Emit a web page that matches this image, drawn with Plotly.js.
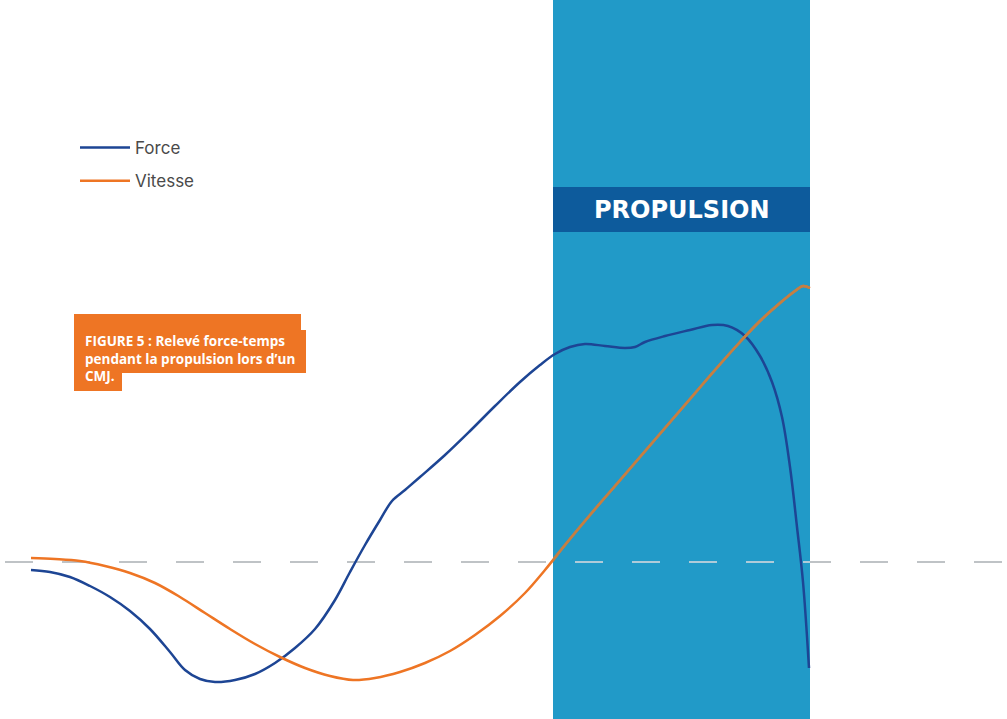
<!DOCTYPE html>
<html>
<head>
<meta charset="utf-8">
<script src="https://cdn.plot.ly/plotly-3.0.1.min.js"></script>
<style>
  html, body { margin: 0; padding: 0; background: #fff; }
</style>
</head>
<body>
<div id="chart"></div>
<script>
// temps (unités du graphique) et valeurs
var forceTime = [31, 50, 70, 90, 110, 130, 150, 170, 185, 200, 215, 235, 255, 275, 295, 315, 335, 350, 365, 380, 392, 405, 420, 445, 470, 495, 520, 540, 555, 570, 585, 605, 625, 635, 645, 665, 690, 712, 728, 745, 760, 772, 782, 790, 797, 803, 809];
var forceValue = [-8, -10, -15, -24, -35, -49, -67, -90, -108, -117, -120, -118, -112, -101, -86, -67, -38, -10, 17, 42, 61, 72, 85, 107, 131, 156, 180, 197, 208, 215, 218, 216, 214, 215, 220, 226, 232, 237, 236, 226, 206, 180, 145, 95, 35, -20, -106];

var vitesseTime = [31, 55, 80, 105, 130, 155, 180, 205, 230, 255, 280, 305, 330, 353, 375, 400, 425, 450, 475, 500, 525, 545, 565, 590, 615, 640, 665, 690, 715, 740, 760, 780, 795, 803, 810];
var vitesseValue = [4, 3, 1, -4, -11, -21, -35, -51, -67, -82, -95, -106, -114, -118, -116, -110, -101, -89, -73, -54, -31, -8, 17, 47, 76, 105, 134, 163, 192, 220, 241, 259, 271, 276, 274];

// phase de propulsion
var propulsionStart = 553;
var propulsionEnd = 810;

var blueColor = '#1d4594';
var orangeColor = '#ee7524';
var bandColor = '#219ac8';

var data = [{
  x: forceTime,
  y: forceValue,
  name: 'Force',
  legendgroup: 'force',
  type: 'scatter',
  mode: 'lines',
  line: { color: blueColor, width: 2.5, shape: 'spline', smoothing: 1 }
}, {
  x: vitesseTime,
  y: vitesseValue,
  name: 'Vitesse',
  legendgroup: 'vitesse',
  type: 'scatter',
  mode: 'lines',
  line: { color: orangeColor, width: 2.5, shape: 'spline', smoothing: 1 }
}, {
  // same curve again on a subplot that only covers the band, so it is clipped there
  x: vitesseTime,
  y: vitesseValue,
  xaxis: 'x2',
  yaxis: 'y2',
  showlegend: false,
  hoverinfo: 'skip',
  type: 'scatter',
  mode: 'lines',
  line: { color: '#c47f43', width: 2.5, shape: 'spline', smoothing: 1 }
}];

var layout = {
  width: 1007,
  height: 719,
  margin: { t: 0, l: 0, r: 0, b: 0 },
  paper_bgcolor: '#ffffff',
  plot_bgcolor: 'rgba(0,0,0,0)',
  xaxis: { range: [0, 1007], domain: [0, 1], visible: false, fixedrange: true },
  yaxis: { range: [-157, 562], domain: [0, 1], visible: false, fixedrange: true },
  xaxis2: { range: [propulsionStart, propulsionEnd], domain: [propulsionStart / 1007, propulsionEnd / 1007],
            anchor: 'y2', visible: false, fixedrange: true },
  yaxis2: { range: [-157, 562], domain: [0, 1], anchor: 'x2', visible: false, fixedrange: true },
  showlegend: true,
  legend: {
    x: 75 / 1007,
    y: 1 - 130 / 719,
    xanchor: 'left',
    yanchor: 'top',
    traceorder: 'grouped',
    tracegroupgap: 8,
    itemwidth: 50,
    bgcolor: 'rgba(0,0,0,0)',
    font: { family: 'Inter', size: 17, color: '#4a4a4a' }
  },
  shapes: [
    // bande propulsion
    { type: 'rect', xref: 'x', yref: 'paper', x0: propulsionStart, x1: propulsionEnd, y0: 0, y1: 1,
      fillcolor: bandColor, line: { width: 0 }, layer: 'below' },
    { type: 'rect', xref: 'x', yref: 'y', x0: propulsionStart, x1: propulsionEnd, y0: 330, y1: 375,
      fillcolor: '#0d5b9c', line: { width: 0 }, layer: 'below' },
    // zero line
    { type: 'line', xref: 'x', yref: 'y', x0: 5, x1: 1007, y0: 0, y1: 0,
      line: { color: '#aab0b4', width: 1.5, dash: '28px,29px' }, layer: 'below' },
    { type: 'line', xref: 'x2', yref: 'y2', x0: 5, x1: 1007, y0: 0, y1: 0,
      line: { color: '#bcd6e3', width: 1.5, dash: '28px,29px' }, layer: 'below' },
    // fond orange de la légende de figure
    { type: 'rect', xref: 'x', yref: 'y', x0: 74, x1: 301, y0: 232, y1: 248,
      fillcolor: orangeColor, line: { width: 0 } },
    { type: 'rect', xref: 'x', yref: 'y', x0: 74, x1: 306, y0: 189, y1: 232,
      fillcolor: orangeColor, line: { width: 0 } },
    { type: 'rect', xref: 'x', yref: 'y', x0: 74, x1: 122, y0: 171, y1: 190,
      fillcolor: orangeColor, line: { width: 0 } }
  ],
  annotations: [{
    text: 'PROPULSION',
    xref: 'x', yref: 'y',
    x: (propulsionStart + propulsionEnd) / 2,
    y: 352.5,
    showarrow: false,
    font: { family: 'DejaVu Sans', size: 24, color: '#ffffff', weight: 'bold' }
  }, {
    text: 'FIGURE 5 : Relevé force-temps<br>pendant la propulsion lors d’un<br>CMJ.',
    xref: 'x', yref: 'y',
    x: 83, y: 232,
    xanchor: 'left', yanchor: 'top',
    align: 'left',
    showarrow: false,
    font: { family: 'Open Sans', size: 13.5, color: '#ffffff', weight: 700 }
  }]
};

var config = {
  displayModeBar: false,
  staticPlot: true
};

Plotly.newPlot('chart', data, layout, config);
</script>
</body>
</html>
